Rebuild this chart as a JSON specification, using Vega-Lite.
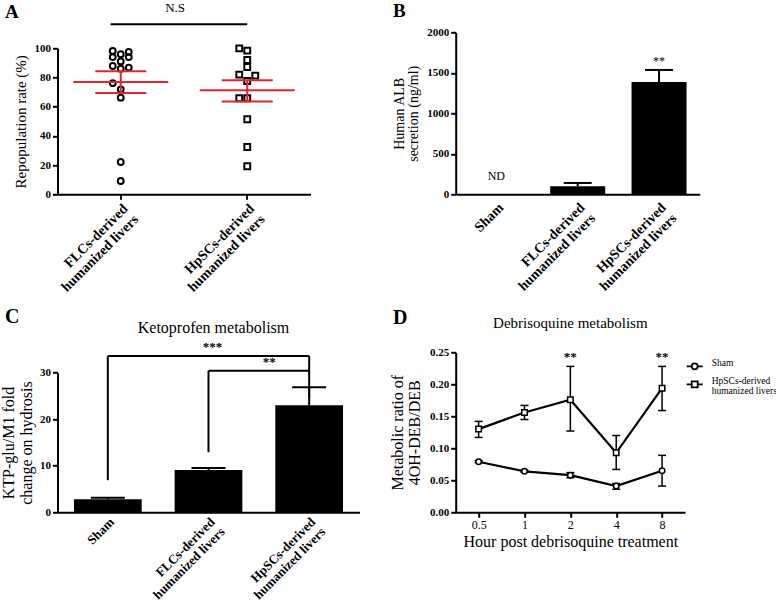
{
  "$schema": "https://vega.github.io/schema/vega-lite/v6.json",
  "autosize": {"type": "none"},
  "padding": {"left": 57.5, "top": 32.3, "right": 718.5, "bottom": 575.7},
  "background": "white",
  "config": {
    "font": "Liberation Serif",
    "view": {"stroke": null},
    "style": {"guide-label": {"lineHeight": 9.5}},
    "axis": {
      "labelFont": "Liberation Serif", "labelFontWeight": "bold", "labelFontSize": 11, "labelColor": "black",
      "titleFont": "Liberation Serif", "titleFontWeight": "normal", "titleFontSize": 14, "titleColor": "black",
      "domainColor": "black", "domainWidth": 2, "tickColor": "black", "tickWidth": 2, "tickSize": 5, "grid": false, "labelPadding": 2
    },
    "title": {"font": "Liberation Serif", "fontSize": 20, "fontWeight": "bold", "color": "black", "anchor": "start", "frame": "group"},
    "text": {"font": "Liberation Serif", "color": "black"}
  },
  "datasets": {
    "repop": [
      {"group": "FLCs-derived humanized livers", "jitter": "L", "rate": 98.2},
      {"group": "FLCs-derived humanized livers", "jitter": "L", "rate": 94},
      {"group": "FLCs-derived humanized livers", "jitter": "C", "rate": 95.9},
      {"group": "FLCs-derived humanized livers", "jitter": "R", "rate": 97.5},
      {"group": "FLCs-derived humanized livers", "jitter": "R", "rate": 94},
      {"group": "FLCs-derived humanized livers", "jitter": "C", "rate": 91},
      {"group": "FLCs-derived humanized livers", "jitter": "L", "rate": 87.9},
      {"group": "FLCs-derived humanized livers", "jitter": "C", "rate": 86},
      {"group": "FLCs-derived humanized livers", "jitter": "R", "rate": 86.8},
      {"group": "FLCs-derived humanized livers", "jitter": "L", "rate": 76.2},
      {"group": "FLCs-derived humanized livers", "jitter": "C", "rate": 71.9},
      {"group": "FLCs-derived humanized livers", "jitter": "C", "rate": 66.2},
      {"group": "FLCs-derived humanized livers", "jitter": "C", "rate": 22.1},
      {"group": "FLCs-derived humanized livers", "jitter": "C", "rate": 9.1},
      {"group": "HpSCs-derived humanized livers", "jitter": "L", "rate": 100},
      {"group": "HpSCs-derived humanized livers", "jitter": "C", "rate": 98.4},
      {"group": "HpSCs-derived humanized livers", "jitter": "C", "rate": 92},
      {"group": "HpSCs-derived humanized livers", "jitter": "C", "rate": 87.2},
      {"group": "HpSCs-derived humanized livers", "jitter": "L", "rate": 82},
      {"group": "HpSCs-derived humanized livers", "jitter": "R", "rate": 81.3},
      {"group": "HpSCs-derived humanized livers", "jitter": "C", "rate": 77.6},
      {"group": "HpSCs-derived humanized livers", "jitter": "L", "rate": 65.8},
      {"group": "HpSCs-derived humanized livers", "jitter": "C", "rate": 65.8},
      {"group": "HpSCs-derived humanized livers", "jitter": "C", "rate": 51.4},
      {"group": "HpSCs-derived humanized livers", "jitter": "C", "rate": 32.4},
      {"group": "HpSCs-derived humanized livers", "jitter": "C", "rate": 19.2}
    ],
    "repopSummary": [
      {"group": "FLCs-derived humanized livers", "mean": 76.9, "lo": 69.4, "hi": 84.2},
      {"group": "HpSCs-derived humanized livers", "mean": 71.2, "lo": 63.5, "hi": 78.1}
    ],
    "repopSig": [
      {"from": "FLCs-derived humanized livers", "to": "HpSCs-derived humanized livers", "level": 116.4, "textLevel": 127.5, "label": "N.S"}
    ],
    "alb": [
      {"group": "Sham", "value": null, "hi": null, "note": "ND", "noteLevel": 223},
      {"group": "FLCs-derived humanized livers", "value": 99, "hi": 140, "note": "", "noteLevel": null},
      {"group": "HpSCs-derived humanized livers", "value": 1385, "hi": 1535, "note": "**", "noteLevel": 1640}
    ],
    "ktp": [
      {"group": "Sham", "value": 2.8, "hi": 3.15},
      {"group": "FLCs-derived humanized livers", "value": 9.1, "hi": 9.5},
      {"group": "HpSCs-derived humanized livers", "value": 23.0, "hi": 26.9}
    ],
    "ktpBracketV": [
      {"group": "Sham", "lo": 6.9, "hi": 33.6},
      {"group": "FLCs-derived humanized livers", "lo": 12.9, "hi": 30.4},
      {"group": "HpSCs-derived humanized livers", "lo": 24.6, "hi": 33.6}
    ],
    "ktpBracketH": [
      {"from": "Sham", "to": "HpSCs-derived humanized livers", "level": 33.6},
      {"from": "FLCs-derived humanized livers", "to": "HpSCs-derived humanized livers", "level": 30.4}
    ],
    "deb": [
      {"hour": "0.5", "series": "Sham", "value": 0.079, "lo": 0.0775, "hi": 0.0805},
      {"hour": "1", "series": "Sham", "value": 0.064, "lo": 0.0625, "hi": 0.0655},
      {"hour": "2", "series": "Sham", "value": 0.058, "lo": 0.054, "hi": 0.062},
      {"hour": "4", "series": "Sham", "value": 0.041, "lo": 0.036, "hi": 0.045},
      {"hour": "8", "series": "Sham", "value": 0.065, "lo": 0.041, "hi": 0.089},
      {"hour": "0.5", "series": "HpSCs-derived humanized livers", "value": 0.130, "lo": 0.117, "hi": 0.142},
      {"hour": "1", "series": "HpSCs-derived humanized livers", "value": 0.156, "lo": 0.145, "hi": 0.167},
      {"hour": "2", "series": "HpSCs-derived humanized livers", "value": 0.176, "lo": 0.127, "hi": 0.228},
      {"hour": "4", "series": "HpSCs-derived humanized livers", "value": 0.093, "lo": 0.067, "hi": 0.120},
      {"hour": "8", "series": "HpSCs-derived humanized livers", "value": 0.194, "lo": 0.159, "hi": 0.228}
    ],
    "debSig": [
      {"hour": "2", "level": 0.2422, "label": "**"},
      {"hour": "8", "level": 0.2422, "label": "**"}
    ]
  },
  "spacing": 320,
  "bounds": "flush",
  "vconcat": [
    {
      "spacing": 145.2,
      "bounds": "flush",
      "hconcat": [
        {
          "width": 253,
          "height": 162,
          "title": {"text": "A", "dx": -52.5, "offset": 4, "dy": 23.5, "fontSize": 19},
          "layer": [
            {
              "data": {"name": "repop"},
              "mark": {"type": "point", "filled": false, "strokeWidth": 2, "size": 34, "color": "black", "opacity": 1},
              "encoding": {
                "x": {"field": "group", "type": "nominal"},
                "xOffset": {"field": "jitter", "type": "nominal", "scale": {"type": "point", "domain": ["L", "C", "R"], "range": [55.25, 71.25], "padding": 0}},
                "y": {"field": "rate", "type": "quantitative"},
                "shape": {"field": "group", "type": "nominal", "scale": {"range": ["circle", "square"]}, "legend": null}
              }
            },
            {
              "data": {"name": "repopSummary"},
              "mark": {"type": "rule", "color": "#e3262d", "strokeWidth": 2},
              "encoding": {
                "x": {"field": "group", "type": "nominal"},
                "y": {"field": "lo", "type": "quantitative"},
                "y2": {"field": "hi"}
              }
            },
            {
              "data": {"name": "repopSummary"},
              "mark": {"type": "tick", "color": "#e3262d", "size": 95, "thickness": 2, "opacity": 1},
              "encoding": {
                "x": {"field": "group", "type": "nominal"},
                "y": {"field": "mean", "type": "quantitative"}
              }
            },
            {
              "data": {"name": "repopSummary"},
              "mark": {"type": "tick", "color": "#e3262d", "size": 51, "thickness": 2, "opacity": 1},
              "encoding": {
                "x": {"field": "group", "type": "nominal"},
                "y": {"field": "lo", "type": "quantitative"}
              }
            },
            {
              "data": {"name": "repopSummary"},
              "mark": {"type": "tick", "color": "#e3262d", "size": 51, "thickness": 2, "opacity": 1},
              "encoding": {
                "x": {"field": "group", "type": "nominal"},
                "y": {"field": "hi", "type": "quantitative"}
              }
            },
            {
              "data": {"name": "repopSig"},
              "mark": {"type": "rule", "color": "black", "strokeWidth": 2},
              "encoding": {
                "x": {"field": "from", "type": "nominal", "bandPosition": 0.42},
                "x2": {"field": "to"},
                "y": {"field": "level", "type": "quantitative"}
              }
            },
            {
              "data": {"name": "repopSig"},
              "mark": {"type": "text", "fontSize": 13, "align": "center", "baseline": "middle", "fill": "black"},
              "encoding": {
                "x": {"field": "from", "type": "nominal", "bandPosition": 0.93},
                "y": {"field": "textLevel", "type": "quantitative"},
                "text": {"field": "label"}
              }
            }
          ],
          "encoding": {
            "x": {
              "scale": {"type": "band", "domain": ["FLCs-derived humanized livers", "HpSCs-derived humanized livers"], "paddingInner": 0, "paddingOuter": 0},
              "axis": {"title": null, "labelAngle": -45, "labelFontSize": 14, "labelLineHeight": 15, "ticks": true,
                "labelExpr": "indexof(datum.label, ' ') > 0 ? [slice(datum.label, 0, indexof(datum.label, ' ')), slice(datum.label, indexof(datum.label, ' ') + 1)] : datum.label"}
            },
            "y": {
              "scale": {"domain": [0, 100], "range": [162, 16]},
              "axis": {"title": "Repopulation  rate (%)", "values": [0, 20, 40, 60, 80, 100], "titleFontSize": 15, "titlePadding": 6}
            }
          }
        },
        {
          "width": 244,
          "height": 162,
          "title": {"text": "B", "dx": -62.7, "offset": 4, "dy": -1.5, "fontSize": 19},
          "data": {"name": "alb"},
          "layer": [
            {
              "mark": {"type": "bar", "color": "black", "width": 55},
              "encoding": {
                "x": {"field": "group", "type": "nominal"},
                "y": {"field": "value", "type": "quantitative"}
              }
            },
            {
              "mark": {"type": "rule", "color": "black", "strokeWidth": 2},
              "encoding": {
                "x": {"field": "group", "type": "nominal"},
                "y": {"field": "value", "type": "quantitative"},
                "y2": {"field": "hi"}
              }
            },
            {
              "mark": {"type": "tick", "color": "black", "size": 28, "thickness": 2, "opacity": 1},
              "encoding": {
                "x": {"field": "group", "type": "nominal"},
                "y": {"field": "hi", "type": "quantitative"}
              }
            },
            {
              "mark": {"type": "text", "fontSize": 12, "baseline": "middle", "fill": "black"},
              "encoding": {
                "x": {"field": "group", "type": "nominal"},
                "y": {"field": "noteLevel", "type": "quantitative"},
                "text": {"field": "note"},
                "fontWeight": {"condition": {"test": "datum.note == '**'", "value": "bold"}, "value": "normal"}
              }
            }
          ],
          "encoding": {
            "x": {
              "scale": {"type": "band", "domain": ["Sham", "FLCs-derived humanized livers", "HpSCs-derived humanized livers"], "paddingInner": 0.325, "paddingOuter": 0.1625},
              "axis": {"title": null, "labelAngle": -45, "labelFontSize": 14, "labelLineHeight": 15, "ticks": false, "labelPadding": 6,
                "labelExpr": "indexof(datum.label, ' ') > 0 ? [slice(datum.label, 0, indexof(datum.label, ' ')), slice(datum.label, indexof(datum.label, ' ') + 1)] : datum.label"}
            },
            "y": {
              "scale": {"domain": [0, 2000]},
              "axis": {"title": ["Human ALB", "secretion (ng/ml)"], "values": [0, 500, 1000, 1500, 2000], "format": "d", "titleLineHeight": 14, "titlePadding": 6}
            }
          }
        }
      ]
    },
    {
      "spacing": 96.2,
      "bounds": "flush",
      "hconcat": [
        {
          "width": 302,
          "height": 160,
          "title": {"text": "C", "dx": -52.5, "offset": 16, "dy": 23},
          "layer": [
            {
              "data": {"name": "ktp"},
              "mark": {"type": "bar", "color": "black", "width": 67.7},
              "encoding": {
                "x": {"field": "group", "type": "nominal"},
                "y": {"field": "value", "type": "quantitative"}
              }
            },
            {
              "data": {"name": "ktp"},
              "mark": {"type": "rule", "color": "black", "strokeWidth": 2},
              "encoding": {
                "x": {"field": "group", "type": "nominal"},
                "y": {"field": "value", "type": "quantitative"},
                "y2": {"field": "hi"}
              }
            },
            {
              "data": {"name": "ktp"},
              "mark": {"type": "tick", "color": "black", "size": 34, "thickness": 2, "opacity": 1},
              "encoding": {
                "x": {"field": "group", "type": "nominal"},
                "y": {"field": "hi", "type": "quantitative"}
              }
            },
            {
              "data": {"name": "ktpBracketV"},
              "mark": {"type": "rule", "color": "black", "strokeWidth": 2},
              "encoding": {
                "x": {"field": "group", "type": "nominal"},
                "y": {"field": "lo", "type": "quantitative"},
                "y2": {"field": "hi"}
              }
            },
            {
              "data": {"name": "ktpBracketH"},
              "mark": {"type": "rule", "color": "black", "strokeWidth": 2},
              "encoding": {
                "x": {"field": "from", "type": "nominal"},
                "x2": {"field": "to"},
                "y": {"field": "level", "type": "quantitative"}
              }
            },
            {
              "data": {"values": [{"group": "FLCs-derived humanized livers", "level": 35.6, "label": "***"}]},
              "mark": {"type": "text", "fontSize": 13, "fontWeight": "bold", "dx": 4, "baseline": "middle", "fill": "black"},
              "encoding": {
                "x": {"field": "group", "type": "nominal"},
                "y": {"field": "level", "type": "quantitative"},
                "text": {"field": "label"}
              }
            },
            {
              "data": {"values": [{"group": "HpSCs-derived humanized livers", "level": 32.2, "label": "**"}]},
              "mark": {"type": "text", "fontSize": 13, "fontWeight": "bold", "dx": -40, "baseline": "middle", "fill": "black"},
              "encoding": {
                "x": {"field": "group", "type": "nominal"},
                "y": {"field": "level", "type": "quantitative"},
                "text": {"field": "label"}
              }
            },
            {
              "data": {"values": [{"group": "FLCs-derived humanized livers", "level": 39.5, "label": "Ketoprofen metabolism"}]},
              "mark": {"type": "text", "fontSize": 16, "dx": 5, "baseline": "middle", "fill": "black"},
              "encoding": {
                "x": {"field": "group", "type": "nominal"},
                "y": {"field": "level", "type": "quantitative"},
                "text": {"field": "label"}
              }
            }
          ],
          "encoding": {
            "x": {
              "scale": {"type": "band", "domain": ["Sham", "FLCs-derived humanized livers", "HpSCs-derived humanized livers"], "paddingInner": 0.33, "paddingOuter": 0.165},
              "axis": {"title": null, "labelAngle": -45, "labelFontSize": 13, "labelLineHeight": 14, "ticks": false, "labelPadding": 3,
                "labelExpr": "indexof(datum.label, ' ') > 0 ? [slice(datum.label, 0, indexof(datum.label, ' ')), slice(datum.label, indexof(datum.label, ' ') + 1)] : datum.label"}
            },
            "y": {
              "scale": {"domain": [0, 30], "range": [160, 20.4]},
              "axis": {"title": ["KTP-glu/M1 fold", "change on hydrosis"], "values": [0, 10, 20, 30], "titleFontSize": 16, "titleLineHeight": 18, "titlePadding": 5}
            }
          }
        },
        {
          "width": 229.3,
          "height": 160,
          "title": {"text": "D", "dx": -62.7, "offset": 16, "dy": 28},
          "layer": [
            {
              "data": {"name": "deb"},
              "mark": {"type": "rule", "color": "black", "strokeWidth": 1.5},
              "encoding": {
                "x": {"field": "hour", "type": "ordinal"},
                "y": {"field": "lo", "type": "quantitative"},
                "y2": {"field": "hi"}
              }
            },
            {
              "data": {"name": "deb"},
              "mark": {"type": "tick", "color": "black", "size": 8, "thickness": 1.5, "opacity": 1, "orient": "horizontal"},
              "encoding": {
                "x": {"field": "hour", "type": "ordinal"},
                "y": {"field": "lo", "type": "quantitative"}
              }
            },
            {
              "data": {"name": "deb"},
              "mark": {"type": "tick", "color": "black", "size": 8, "thickness": 1.5, "opacity": 1, "orient": "horizontal"},
              "encoding": {
                "x": {"field": "hour", "type": "ordinal"},
                "y": {"field": "hi", "type": "quantitative"}
              }
            },
            {
              "data": {"name": "deb"},
              "mark": {"type": "line", "color": "black", "strokeWidth": 2.2},
              "encoding": {
                "x": {"field": "hour", "type": "ordinal"},
                "y": {"field": "value", "type": "quantitative"},
                "detail": {"field": "series", "type": "nominal"}
              }
            },
            {
              "data": {"name": "deb"},
              "mark": {"type": "point", "filled": false, "fill": "white", "fillOpacity": 1, "stroke": "black", "strokeWidth": 1.5, "size": 30, "opacity": 1},
              "encoding": {
                "x": {"field": "hour", "type": "ordinal"},
                "y": {"field": "value", "type": "quantitative"},
                "shape": {"field": "series", "type": "nominal", "scale": {"domain": ["Sham", "HpSCs-derived humanized livers"], "range": ["circle", "square"]}, "legend": null}
              }
            },
            {
              "data": {"name": "deb"},
              "transform": [{"filter": "datum.value < 0"}],
              "mark": {"type": "point", "filled": false, "stroke": "black", "strokeWidth": 1.8},
              "encoding": {
                "x": {"field": "hour", "type": "ordinal"},
                "y": {"field": "value", "type": "quantitative"},
                "shape": {
                  "field": "series", "type": "nominal",
                  "scale": {"domain": ["Sham", "HpSCs-derived humanized livers"], "range": [
                    "M-1,0L-0.375,0M0.375,0L1,0M0.375,0A0.375,0.375,0,1,1,-0.375,0A0.375,0.375,0,1,1,0.375,0Z",
                    "M-1,0L-0.375,0M0.375,0L1,0M-0.375,-0.375L0.375,-0.375L0.375,0.375L-0.375,0.375Z"
                  ]},
                  "legend": {
                    "title": null, "orient": "none", "legendX": 230, "legendY": 5, "padding": 0,
                    "symbolSize": 256, "symbolStrokeWidth": 1.8, "symbolStrokeColor": "black", "symbolFillColor": "white", "symbolOpacity": 1,
                    "labelFont": "Liberation Serif", "labelFontSize": 9.5, "labelColor": "black", "labelOffset": 8, "labelBaseline": "alphabetic", "labelLimit": 200,
                    "rowPadding": 2,
                    "labelExpr": "indexof(datum.label, ' ') > 0 ? [slice(datum.label, 0, indexof(datum.label, ' ')), slice(datum.label, indexof(datum.label, ' ') + 1)] : datum.label"
                  }
                }
              }
            },
            {
              "data": {"name": "debSig"},
              "mark": {"type": "text", "fontSize": 13, "fontWeight": "bold", "baseline": "middle", "fill": "black"},
              "encoding": {
                "x": {"field": "hour", "type": "ordinal"},
                "y": {"field": "level", "type": "quantitative"},
                "text": {"field": "label"}
              }
            },
            {
              "data": {"values": [{"hour": "2", "level": 0.2958, "label": "Debrisoquine  metabolism"}]},
              "mark": {"type": "text", "fontSize": 15, "baseline": "middle", "fill": "black"},
              "encoding": {
                "x": {"field": "hour", "type": "ordinal"},
                "y": {"field": "level", "type": "quantitative"},
                "text": {"field": "label"}
              }
            }
          ],
          "resolve": {"scale": {"shape": "independent"}},
          "encoding": {
            "x": {
              "scale": {"domain": ["0.5", "1", "2", "4", "8"], "type": "point", "padding": 0.5},
              "axis": {"title": "Hour post debrisoquine treatment", "labelAngle": 0, "labelFontWeight": "normal", "labelFontSize": 12, "titleFontSize": 16, "titlePadding": 3}
            },
            "y": {
              "scale": {"domain": [0, 0.25]},
              "axis": {"title": ["Metabolic ratio of", "4OH-DEB/DEB"], "values": [0, 0.05, 0.1, 0.15, 0.2, 0.25], "format": ".2f", "titleFontSize": 16, "titleLineHeight": 17, "titlePadding": 7}
            }
          }
        }
      ]
    }
  ]
}
